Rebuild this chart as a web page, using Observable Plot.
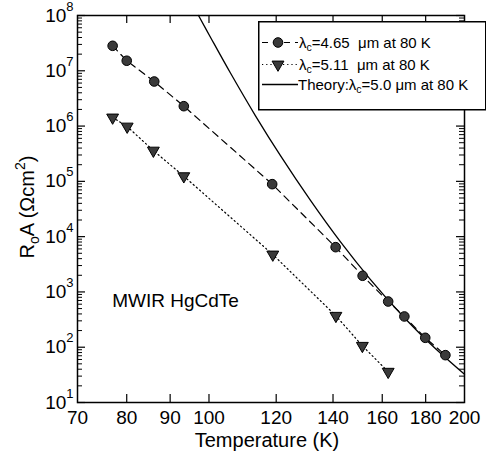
<!DOCTYPE html>
<html><head><meta charset="utf-8">
<script src="https://cdn.jsdelivr.net/npm/d3@7"></script>
<script src="https://cdn.jsdelivr.net/npm/@observablehq/plot@0.6"></script>
<style>
body{margin:0;background:#fff;}
#wrap{position:relative;width:486px;height:455px;font-family:"Liberation Sans",Arial,sans-serif;}
#legend{position:absolute;left:258px;top:21px;}
#legend text{font-family:"Liberation Sans",Arial,sans-serif;font-size:15px;white-space:pre;}
</style></head><body><div id="wrap"></div>
<script>
// Series: lambda_c = 4.65 um at 80 K (circles, dashed)
const tempA = [77, 80, 86.2, 93.4, 118.7, 141, 151.7, 162.6, 169.9, 179.8, 189.9];
const roaA  = [2.83e7, 1.52e7, 6.4e6, 2.29e6, 8.9e4, 6.45e3, 1.96e3, 671, 360, 148, 71.8];
// Series: lambda_c = 5.11 um at 80 K (down triangles, dotted)
const tempB = [77, 80.1, 86, 93.4, 118.9, 141.1, 151.6, 162.6];
const roaB  = [1.43e6, 9.8e5, 3.6e5, 1.24e5, 4.75e3, 370, 106, 36];
// Theory: lambda_c = 5.0 um at 80 K (solid)
const tempTh = [97.2, 100.4, 106.0, 113.4, 121.4, 131.7, 142.8, 154.9, 168.1, 182.4, 200];
const roaTh  = [1e8, 4.05e7, 9.1e6, 1.55e6, 2.91e5, 4.51e4, 8.1e3, 1.69e3, 407, 114, 32.3];
// Axes
const xTickLabels = [70, 80, 90, 100, 120, 140, 160, 180, 200];
const xInnerTicks = [80, 90, 100, 120, 140, 160, 180];
const yExponents = [1, 2, 3, 4, 5, 6, 7, 8];
const annotation = [{T: 76.9, R: 700, label: "MWIR HgCdTe"}];
const xLabel = "Temperature (K)";
const yLabel = "R_oA (Ωcm^2)";
const legendLabels = ["λc=4.65  μm at 80 K", "λc=5.11  μm at 80 K", "Theory:λc=5.0 μm at 80 K"];

const serA = tempA.map((T, i) => ({T, R: roaA[i]}));
const serB = tempB.map((T, i) => ({T, R: roaB[i]}));
const serTh = tempTh.map((T, i) => ({T, R: roaTh[i]}));
const yMajor = yExponents.map(e => 10 ** e);
const yMinor = [];
for (const e of yExponents.slice(0, -1)) for (let m = 2; m < 10; m++) yMinor.push(m * 10 ** e);

const W = 486, H = 455, mL = 77, mR = 22, mT = 15, mB = 53;
const fw = W - mL - mR, fh = H - mT - mB;
const font = "Liberation Sans, Arial, sans-serif";

const svg = Plot.plot({
  width: W, height: H,
  marginLeft: mL, marginRight: mR, marginTop: mT, marginBottom: mB,
  style: {fontFamily: font, fontSize: "19px", color: "#000", background: "#fff", overflow: "visible"},
  x: {type: "log", domain: [70, 200]},
  y: {type: "log", domain: [10, 1e8]},
  marks: [
    Plot.axisX(xTickLabels, {tickSize: 0, tickPadding: 8, tickFormat: d => String(d), label: null, fontSize: 19}),
    Plot.axisY(yMajor, {tickSize: 0, tickPadding: 4, tickFormat: d => `10^${Math.round(Math.log10(d))}`, label: null, fontSize: 19}),
    Plot.tickX(xInnerTicks, {x: d => d, insetTop: fh - 8, stroke: "#000", strokeWidth: 1.2}),
    Plot.tickX(xInnerTicks, {x: d => d, insetBottom: fh - 8, stroke: "#000", strokeWidth: 1.2}),
    Plot.tickY(yMajor, {y: d => d, insetRight: fw - 8, stroke: "#000", strokeWidth: 1.2}),
    Plot.tickY(yMajor, {y: d => d, insetLeft: fw - 8, stroke: "#000", strokeWidth: 1.2}),
    Plot.tickY(yMinor, {y: d => d, insetRight: fw - 5, stroke: "#000", strokeWidth: 1}),
    Plot.tickY(yMinor, {y: d => d, insetLeft: fw - 5, stroke: "#000", strokeWidth: 1}),
    Plot.frame({stroke: "#000", strokeWidth: 1.5}),
    Plot.line(serTh, {x: "T", y: "R", curve: "catmull-rom", stroke: "#000", strokeWidth: 1.3}),
    Plot.line(serB, {x: "T", y: "R", stroke: "#000", strokeWidth: 1.2, strokeDasharray: "1.2,3"}),
    Plot.line(serA, {x: "T", y: "R", stroke: "#000", strokeWidth: 1.2, strokeDasharray: "7,5"}),
    Plot.dot(serA, {x: "T", y: "R", r: 4.8, fill: "#3a3a3a", stroke: "#000", strokeWidth: 1}),
    Plot.dot(serB, {x: "T", y: "R", symbol: "triangle", rotate: 180, r: 4.4, fill: "#3a3a3a", stroke: "#000", strokeWidth: 1}),
    Plot.text(annotation, {x: "T", y: "R", text: "label", textAnchor: "start", fontSize: 19, fill: "#000"}),
    Plot.text([xLabel], {frameAnchor: "bottom", text: d => d, textAnchor: "middle", dy: 44, dx: -4, lineAnchor: "bottom", fontSize: 20, fill: "#000"}),
    Plot.text([yLabel], {frameAnchor: "left", text: d => d, textAnchor: "middle", rotate: -90, dx: -50, dy: -2, lineAnchor: "middle", fontSize: 20, fill: "#000"})
  ]
});

const NS = "http://www.w3.org/2000/svg";
function setRich(el, parts) {
  el.textContent = "";
  for (const [str, dy, size] of parts) {
    const t = document.createElementNS(NS, "tspan");
    t.textContent = str;
    if (dy) t.setAttribute("dy", dy);
    if (size) t.setAttribute("font-size", size);
    el.appendChild(t);
  }
}
svg.querySelectorAll("text").forEach(el => {
  const s = el.textContent;
  const m = /^10\^(\d+)$/.exec(s);
  if (m) setRich(el, [["10"], [m[1], -11, 13]]);
  else if (s === yLabel) setRich(el, [["R"], ["o", 5, 14], ["A (Ωcm", -5], ["2", -9, 14], [")", 9]]);
});
document.getElementById("wrap").appendChild(svg);

// Legend (drawn over the plot's upper right corner)
const lw = 227, lh = 88;
const rows = [21.5, 43.5, 63.5];
function label(str, x, y) {
  const [pre, rest] = str.split("λc");
  return `<text x="${x}" y="${y + 5.5}">${pre}λ<tspan font-size="10.5" dy="3">c</tspan><tspan dy="-3">${rest}</tspan></text>`;
}
const leg = `
<svg id="legend" width="${lw + 2}" height="${lh + 2}" xmlns="${NS}">
  <rect x="0.75" y="0.75" width="${lw}" height="${lh}" fill="#fff" stroke="#000" stroke-width="1.5"/>
  <line x1="4" x2="40" y1="${rows[0]}" y2="${rows[0]}" stroke="#000" stroke-width="1.2" stroke-dasharray="6,5"/>
  <circle cx="20" cy="${rows[0]}" r="4.8" fill="#3a3a3a" stroke="#000"/>
  <line x1="4" x2="40" y1="${rows[1]}" y2="${rows[1]}" stroke="#000" stroke-width="1.2" stroke-dasharray="1.2,3"/>
  <path transform="translate(20,${rows[1]}) rotate(180)" d="${d3.symbol(d3.symbolTriangle, Math.PI * 4.4 * 4.4)()}" fill="#3a3a3a" stroke="#000"/>
  <line x1="4" x2="40" y1="${rows[2]}" y2="${rows[2]}" stroke="#000" stroke-width="1.3"/>
  ${label(legendLabels[0], 41, rows[0])}
  ${label(legendLabels[1], 41, rows[1])}
  ${label(legendLabels[2], 40, rows[2])}
</svg>`;
document.getElementById("wrap").insertAdjacentHTML("beforeend", leg);
</script>
</body></html>
